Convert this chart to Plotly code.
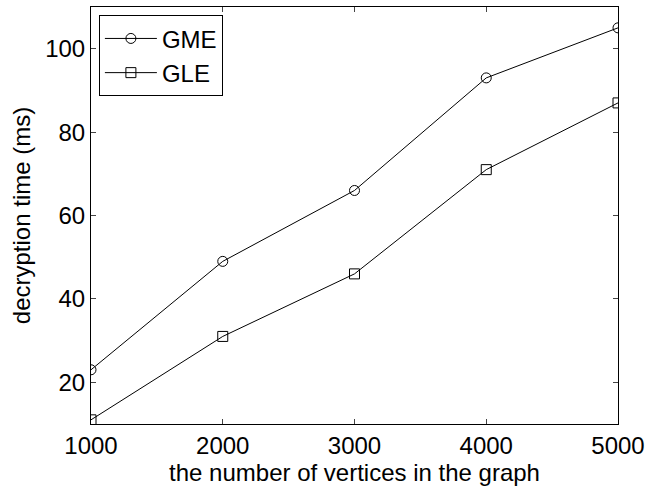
import plotly.graph_objects as go

vertices = [1000, 2000, 3000, 4000, 5000]
gme = [23, 49, 66, 93, 105]
gle = [11, 31, 46, 71, 87]
x_ticks = [1000, 2000, 3000, 4000, 5000]
y_ticks = [20, 40, 60, 80, 100]

fig = go.Figure()
fig.add_trace(go.Scatter(x=vertices, y=gme, name="GME", mode="lines+markers",
                         line=dict(color="black", width=1),
                         marker=dict(symbol="circle-open", size=10, color="black", line=dict(width=1))))
fig.add_trace(go.Scatter(x=vertices, y=gle, name="GLE", mode="lines+markers",
                         line=dict(color="black", width=1),
                         marker=dict(symbol="square-open", size=10, color="black", line=dict(width=1))))

fam = "Liberation Sans, Arial, sans-serif"
fig.update_layout(
    width=651, height=488,
    margin=dict(l=91, r=28, t=6, b=64),
    paper_bgcolor="white", plot_bgcolor="white",
    font=dict(family=fam, size=24, color="black"),
    showlegend=True,
    legend=dict(x=0.015, y=0.98, xanchor="left", yanchor="top",
                bordercolor="black", borderwidth=1, bgcolor="white",
                font=dict(family=fam, size=24),
                tracegroupgap=0, itemwidth=52),
    xaxis=dict(range=[1000, 5000], tickvals=x_ticks, ticks="inside", ticklen=5,
               showline=True, linecolor="black", linewidth=1, mirror="ticks",
               showgrid=False, zeroline=False,
               title=dict(text="the number of vertices in the graph", standoff=0, font=dict(size=24)),
               tickfont=dict(size=24)),
    yaxis=dict(range=[10, 110], tickvals=y_ticks, ticks="inside", ticklen=5,
               showline=True, linecolor="black", linewidth=1, mirror="ticks",
               showgrid=False, zeroline=False,
               title=dict(text="decryption time (ms)", standoff=7, font=dict(size=24)),
               tickfont=dict(size=24)),
)
fig.write_html("out.html")
